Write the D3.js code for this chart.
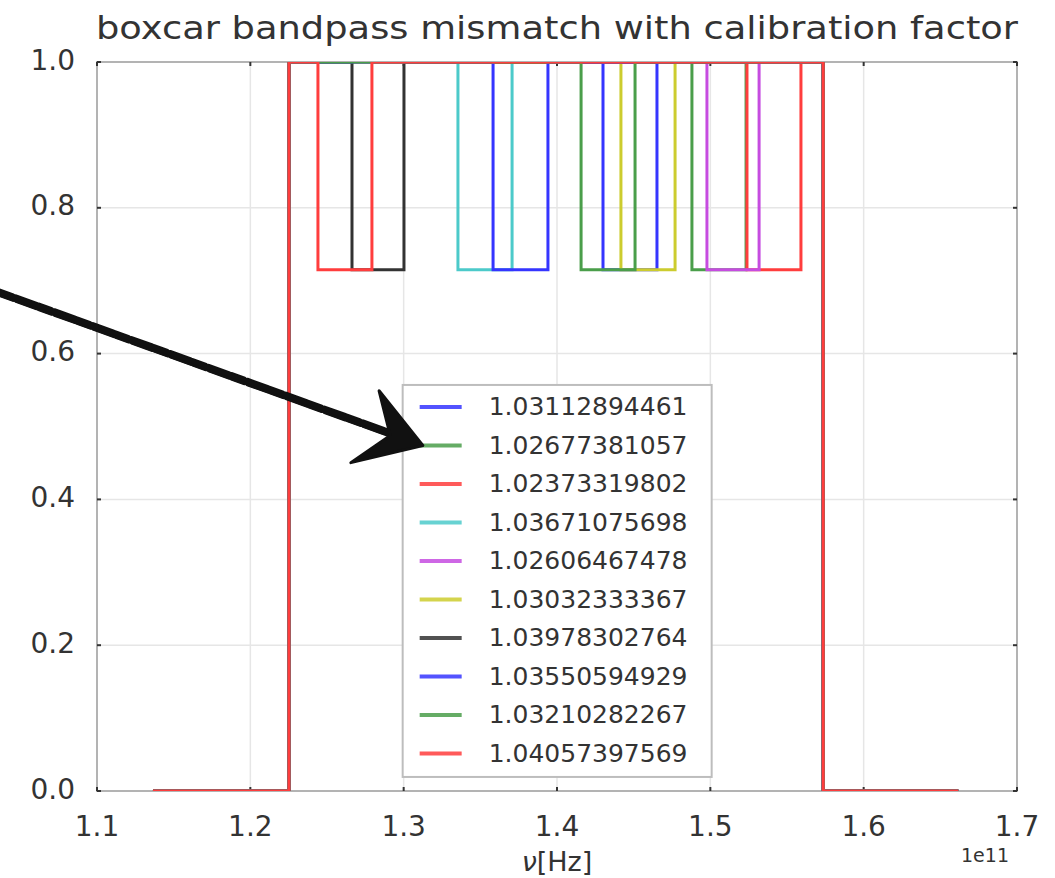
<!DOCTYPE html>
<html>
<head>
<meta charset="utf-8">
<script src="https://cdn.jsdelivr.net/npm/d3@7"></script>
<style>
  body { margin: 0; background: #fff; }
  text { font-family: "DejaVu Sans", sans-serif; fill: #333; }
</style>
</head>
<body>
<div class="chart"></div>
<script>
// calibration factors, in legend order
const factors = ["1.03112894461", "1.02677381057", "1.02373319802", "1.03671075698", "1.02606467478",
  "1.03032333367", "1.03978302764", "1.03550594929", "1.03210282267", "1.04057397569"];
const colors = ["#3535ff", "#4a9e4a", "#ff3d3d", "#4ccaca", "#c64ce0", "#cccc2e", "#333333", "#3535ff", "#4a9e4a", "#ff3d3d"];
// frequency of the dip edges (units of 1e11 Hz)
const dipLo = [1.4300, 1.4880, 1.5239, 1.3354, 1.4978, 1.4417, 1.2663, 1.3583, 1.4157, 1.2441];
const dipHi = [1.4652, 1.5233, 1.5591, 1.3707, 1.5318, 1.4770, 1.3002, 1.3941, 1.4509, 1.2793];
const dipLevel = 0.715;
// common band and sampled range
const freqMin = 1.1365, bandLo = 1.2252, bandHi = 1.5736, freqMax = 1.6617;
const xTicks = [1.1, 1.2, 1.3, 1.4, 1.5, 1.6, 1.7];
const yTicks = [0.0, 0.2, 0.4, 0.6, 0.8, 1.0];
// hand-drawn arrow in data coordinates: tail, tip
const arrowPts = [[1.0367, 0.683], [1.3125, 0.474]];

var margin = { top: 62, right: 38, bottom: 87, left: 97 },
  width = 1055 - margin.left - margin.right,
  height = 878 - margin.top - margin.bottom;

const root = d3.select(".chart").append("svg")
  .attr("width", 1055).attr("height", 878);
const svg = root.append("g")
  .attr("transform", "translate(" + margin.left + "," + margin.top + ")");

var x = d3.scaleLinear().domain([1.1, 1.7]).range([0, width]);
var y = d3.scaleLinear().domain([0, 1]).range([height, 0]);

// grid
svg.append("g").selectAll("line").data(xTicks.slice(1, -1)).enter().append("line")
  .attr("x1", d => x(d)).attr("x2", d => x(d)).attr("y1", 0).attr("y2", height)
  .attr("stroke", "#e6e6e6").attr("stroke-width", 1.5);
svg.append("g").selectAll("line").data(yTicks.slice(1, -1)).enter().append("line")
  .attr("y1", d => y(d)).attr("y2", d => y(d)).attr("x1", 0).attr("x2", width)
  .attr("stroke", "#e6e6e6").attr("stroke-width", 1.5);

// frame
svg.append("rect").attr("width", width).attr("height", height)
  .attr("fill", "none").attr("stroke", "#b3b3b3").attr("stroke-width", 2);

// inward ticks on all sides
const tk = svg.append("g").attr("stroke", "#333").attr("stroke-width", 2);
xTicks.forEach(function (t) {
  tk.append("line").attr("x1", x(t)).attr("x2", x(t)).attr("y1", height).attr("y2", height - 4);
  tk.append("line").attr("x1", x(t)).attr("x2", x(t)).attr("y1", 0).attr("y2", 4);
});
yTicks.forEach(function (t) {
  tk.append("line").attr("y1", y(t)).attr("y2", y(t)).attr("x1", 0).attr("x2", 4);
  tk.append("line").attr("y1", y(t)).attr("y2", y(t)).attr("x1", width).attr("x2", width - 4);
});

svg.append("clipPath").attr("id", "clip").append("rect")
  .attr("width", width).attr("height", height);

var line = d3.line().x(d => x(d[0])).y(d => y(d[1]));
var series = factors.map(function (f, i) {
  return [[freqMin, 0], [bandLo, 0], [bandLo, 1], [dipLo[i], 1], [dipLo[i], dipLevel],
    [dipHi[i], dipLevel], [dipHi[i], 1], [bandHi, 1], [bandHi, 0], [freqMax, 0]];
});
svg.append("g").attr("clip-path", "url(#clip)")
  .selectAll("path").data(series).enter().append("path")
  .attr("d", line)
  .attr("fill", "none")
  .attr("stroke", (d, i) => colors[i])
  .attr("stroke-width", 3);

// tick labels
svg.append("g").selectAll("text").data(xTicks).enter().append("text")
  .attr("x", d => x(d)).attr("y", height + 35)
  .attr("text-anchor", "middle").attr("dominant-baseline", "central")
  .attr("font-size", 28).text(d3.format(".1f"));
svg.append("g").selectAll("text").data(yTicks).enter().append("text")
  .attr("x", -22).attr("y", d => y(d) - 2)
  .attr("text-anchor", "end").attr("dominant-baseline", "central")
  .attr("font-size", 28).text(d3.format(".1f"));

const xl = svg.append("text").attr("x", width / 2).attr("y", height + 70)
  .attr("text-anchor", "middle").attr("dominant-baseline", "central")
  .attr("font-size", 27);
xl.append("tspan").attr("font-style", "italic").text("\u03bd");
xl.append("tspan").text("[Hz]");
svg.append("text").attr("x", width - 32).attr("y", height + 64)
  .attr("text-anchor", "middle").attr("dominant-baseline", "central")
  .attr("font-size", 19).text("1e11");

root.append("text").attr("x", 557).attr("y", 39)
  .attr("text-anchor", "middle").attr("font-size", 32)
  .attr("textLength", 922).attr("lengthAdjust", "spacingAndGlyphs")
  .text("boxcar bandpass mismatch with calibration factor");

// legend
const lg = svg.append("g").attr("transform", "translate(" + (x(1.3) - 1) + "," + y(0.557) + ")");
lg.append("rect").attr("width", 309).attr("height", 392)
  .attr("fill", "#fff").attr("stroke", "#bdbdbd").attr("stroke-width", 2);
factors.forEach(function (f, i) {
  var ly = 22 + i * 38.5;
  lg.append("line").attr("x1", 17).attr("x2", 59).attr("y1", ly).attr("y2", ly)
    .attr("stroke", colors[i]).attr("stroke-opacity", 0.85).attr("stroke-width", 4);
  lg.append("text").attr("x", 86).attr("y", ly).attr("dominant-baseline", "central")
    .attr("font-size", 25).text(f);
});

// hand-drawn arrow pointing at the legend
const tail = [x(arrowPts[0][0]), y(arrowPts[0][1])];
const tip = [x(arrowPts[1][0]), y(arrowPts[1][1])];
const ang = Math.atan2(tip[1] - tail[1], tip[0] - tail[0]);
const ar = svg.append("g").attr("fill", "#111").attr("stroke", "#111").attr("stroke-linecap", "round");
[[-2.5, 4], [0, 7], [2.5, 3]].forEach(function (o) {
  ar.append("line")
    .attr("x1", tail[0]).attr("y1", tail[1] + o[0])
    .attr("x2", tip[0] - 30 * Math.cos(ang)).attr("y2", tip[1] - 30 * Math.sin(ang) + o[0])
    .attr("stroke-width", o[1]).attr("stroke-dasharray", o[0] === 0 ? null : "14 3 22 2");
});
function pt(len, da) {
  return [tip[0] - len * Math.cos(ang + da), tip[1] - len * Math.sin(ang + da)];
}
const head = [pt(70, 0.55), tip, pt(74, -0.58), pt(34, -0.05)];
ar.append("path").attr("d", "M" + head.map(p => p.join(",")).join("L") + "Z")
  .attr("stroke-width", 3).attr("stroke-linejoin", "round");
</script>
</body>
</html>
